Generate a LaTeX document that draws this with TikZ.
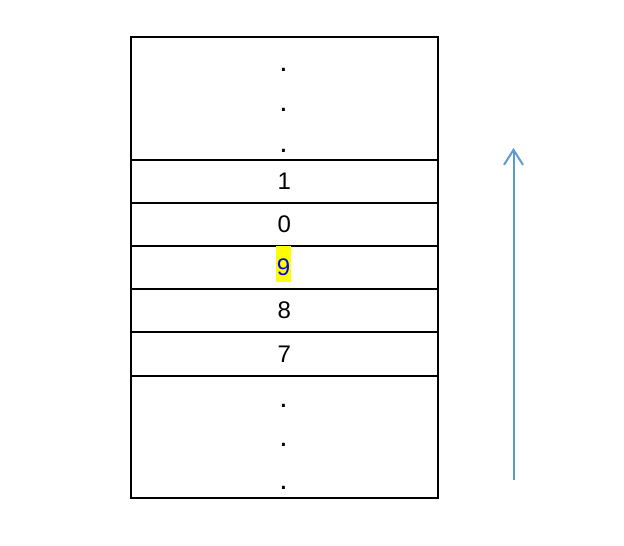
\documentclass[tikz,border=0pt]{standalone}
\usepackage{fontspec}
\setmainfont{Liberation Sans}
\usetikzlibrary{arrows.meta}
\definecolor{arrowblue}{HTML}{5B9BD5}
\definecolor{markyellow}{HTML}{FFFF00}
\tikzset{
  cell/.style={draw, line width=1.5pt, minimum width=307pt, inner sep=0pt, anchor=north west},
  digit/.style={font=\fontsize{24}{28}\selectfont},
  dotmark/.style={font=\fontsize{30}{34}\selectfont, inner sep=0pt},
}
\begin{document}
\begin{tikzpicture}[x=1pt, y=-1pt, >={Straight Barb[length=15pt, width=19pt]}]
\useasboundingbox (0, 0) rectangle (624, 546);

\node[cell, minimum height=123pt] (top) at (130, 36) {};
\node[cell, minimum height=43pt] (one) at (130, 159) {};
\node[cell, minimum height=43pt] (zero) at (130, 202) {};
\node[cell, minimum height=43pt] (nine) at (130, 245) {};
\node[cell, minimum height=43pt] (eight) at (130, 288) {};
\node[cell, minimum height=44pt] (seven) at (130, 331) {};
\node[cell, minimum height=122pt] (bottom) at (130, 375) {};

\node[dotmark] (dottop1) at (283.5, 70) {.};
\node[dotmark] (dottop2) at (283.5, 110) {.};
\node[dotmark] (dottop3) at (283.5, 151) {.};

\node[digit] (labone) at (one.center) {1};
\node[digit] (labzero) at (zero.center) {0};
\node[fill=markyellow, inner sep=0pt, minimum width=15pt, minimum height=36pt] (mark9) at (283.5, 264) {};
\node[digit, text=blue] (labnine) at (283.5, 267.5) {9};
\node[digit] (labeight) at (eight.center) {8};
\node[digit] (labseven) at (seven.center) {7};

\node[dotmark] (dotbot1) at (283.5, 406) {.};
\node[dotmark] (dotbot2) at (283.5, 445) {.};
\node[dotmark] (dotbot3) at (283.5, 488) {.};

\coordinate (arrowlow) at (513.5, 480);
\coordinate (arrowhigh) at (513.5, 148);
\draw[->, arrowblue, line width=2pt] (arrowlow) -- (arrowhigh);
\end{tikzpicture}
\end{document}
